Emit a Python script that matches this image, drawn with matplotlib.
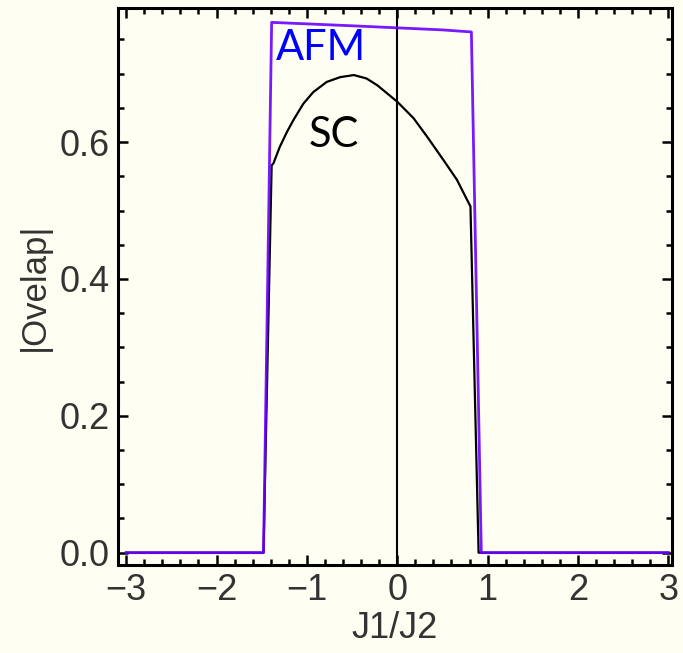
import numpy as np
import matplotlib
matplotlib.use("Agg")
import matplotlib.pyplot as plt
from matplotlib.ticker import MultipleLocator

# AFM overlap (purple)
afm_x = [-3.0, -1.48, -1.39, -0.5, 0.0, 0.5, 0.82, 0.93, 3.0]
afm_y = [0.0, 0.0, 0.775, 0.770, 0.767, 0.764, 0.761, 0.0, 0.0]

# SC overlap (black)
sc_x = [-3.0, -1.48, -1.39, -1.37, -1.30, -1.22, -1.15, -1.04, -0.93,
        -0.78, -0.63, -0.48, -0.34, -0.22, 0.0, 0.18, 0.33, 0.51,
        0.66, 0.81, 0.90, 3.0]
sc_y = [0.0, 0.0, 0.566, 0.569, 0.593, 0.615, 0.632, 0.656, 0.673,
        0.688, 0.695, 0.698, 0.693, 0.683, 0.659, 0.635, 0.608, 0.574,
        0.545, 0.506, 0.0, 0.0]

bg = "#fffef2"
purple = "#6a00ff"
tickcol = "#333333"

fig = plt.figure(figsize=(6.83, 6.53), dpi=100, facecolor=bg)
ax = fig.add_axes([118/683, 1 - 565/653, (672-118)/683, (565-8)/653])
ax.set_facecolor(bg)

ax.axvline(0, color="black", lw=1.5, zorder=1)
ax.plot(sc_x, sc_y, color="black", lw=1.6, zorder=2)
ax.plot(afm_x, afm_y, color=purple, lw=2.0, alpha=0.9, zorder=3)

ax.set_xlim(-3.09, 3.04)
ax.set_ylim(-0.018, 0.796)

ax.xaxis.set_major_locator(MultipleLocator(1))
ax.xaxis.set_minor_locator(MultipleLocator(0.2))
ax.yaxis.set_major_locator(MultipleLocator(0.2))
ax.yaxis.set_minor_locator(MultipleLocator(0.05))
ax.set_xticks([-3, -2, -1, 0, 1, 2, 3])
ax.set_xticklabels(["\u22123", "\u22122", "\u22121", "0", "1", "2", "3"])
ax.set_yticks([0.0, 0.2, 0.4, 0.6])
ax.set_yticklabels(["0.0", "0.2", "0.4", "0.6"])

ax.tick_params(which="both", direction="in", top=True, right=True,
               width=1.8, color="black")
ax.tick_params(which="major", length=7, labelsize=26, labelcolor=tickcol, pad=6)
ax.tick_params(which="minor", length=4)
for lab in ax.get_xticklabels() + ax.get_yticklabels():
    lab.set_family("Liberation Sans")

for s in ax.spines.values():
    s.set_linewidth(2.2)
    s.set_color("black")

ax.set_xlabel("J1/J2", fontsize=26, family="Liberation Sans", color=tickcol, labelpad=2)
ax.set_ylabel("|Ovelap|", fontsize=25, family="Liberation Sans", color=tickcol, labelpad=6)

ax.text(-0.85, 0.738, "AFM", color="#0000ff", fontsize=30, family="Lato",
        ha="center", va="center")
ax.text(-0.7, 0.61, "SC", color="black", fontsize=30, family="Lato",
        ha="center", va="center")

fig.savefig("out.png", dpi=100, facecolor=bg)
